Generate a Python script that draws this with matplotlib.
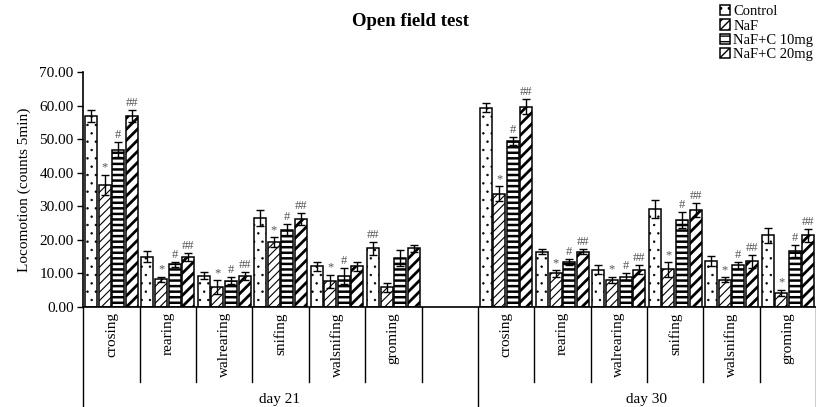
import numpy as np
import matplotlib
matplotlib.use("Agg")
import matplotlib.pyplot as plt
from matplotlib.lines import Line2D
import matplotlib.transforms as mtransforms

plt.rcParams['font.family'] = ['Liberation Serif', 'DejaVu Serif']

# --- Daten ---
behaviours = ['crosing', 'rearing', 'walrearing', 'snifing', 'walsnifing', 'groming']
days = ['day 21', 'day 30']
groups = ['Control', 'NaF', 'NaF+C 10mg', 'NaF+C 20mg']

d21_control = [57.0, 15.0, 9.3, 26.6, 12.1, 17.5]
d21_naf = [36.5, 8.3, 6.0, 19.4, 7.7, 5.9]
d21_c10 = [47.0, 12.7, 7.9, 23.0, 9.2, 14.6]
d21_c20 = [57.0, 14.8, 9.3, 26.4, 12.1, 17.5]

d21_control_err = [1.8, 1.6, 1.0, 2.3, 1.4, 1.9]
d21_naf_err = [3.0, 0.8, 2.0, 1.4, 2.0, 1.3]
d21_c10_err = [2.2, 0.7, 1.1, 1.8, 2.4, 2.3]
d21_c20_err = [1.7, 1.2, 1.1, 1.8, 1.3, 1.0]

d30_control = [59.5, 16.5, 11.1, 29.2, 13.6, 21.4]
d30_naf = [33.8, 10.0, 8.1, 11.2, 8.2, 4.2]
d30_c10 = [49.6, 13.4, 9.1, 26.0, 12.4, 16.6]
d30_c20 = [59.8, 16.5, 11.1, 29.0, 13.6, 21.4]

d30_control_err = [1.3, 0.8, 1.3, 2.7, 1.5, 2.2]
d30_naf_err = [2.2, 0.9, 1.0, 2.2, 0.8, 1.0]
d30_c10_err = [1.2, 1.0, 1.0, 2.3, 1.0, 1.8]
d30_c20_err = [2.2, 0.8, 1.3, 2.1, 2.0, 1.9]

# Signifikanz-Zeichen
d21_control_sig = ['', '', '', '', '', '##']
d21_naf_sig = ['*', '*', '*', '*', '*', '']
d21_c10_sig = ['#', '#', '#', '#', '#', '']
d21_c20_sig = ['##', '##', '##', '##', '', '']

d30_control_sig = ['', '', '', '', '', '']
d30_naf_sig = ['*', '*', '*', '*', '*', '*']
d30_c10_sig = ['#', '#', '#', '#', '#', '#']
d30_c20_sig = ['##', '##', '##', '##', '##', '##']

yticks = [0, 10, 20, 30, 40, 50, 60, 70]

# --- Plot ---
fig = plt.figure(figsize=(8.16, 4.07), dpi=100)
ax = fig.add_axes([0.1021, 0.2457, 0.898, 0.5762])

# Slots: day 21 -> 0..5 (+ leerer Slot 6), day 30 -> 7..12
x21 = np.arange(len(behaviours))
x30 = np.arange(len(behaviours)) + len(behaviours) + 1

values = [
    (np.concatenate([d21_control, d30_control]), np.concatenate([d21_control_err, d30_control_err]), d21_control_sig + d30_control_sig),
    (np.concatenate([d21_naf, d30_naf]), np.concatenate([d21_naf_err, d30_naf_err]), d21_naf_sig + d30_naf_sig),
    (np.concatenate([d21_c10, d30_c10]), np.concatenate([d21_c10_err, d30_c10_err]), d21_c10_sig + d30_c10_sig),
    (np.concatenate([d21_c20, d30_c20]), np.concatenate([d21_c20_err, d30_c20_err]), d21_c20_sig + d30_c20_sig),
]
xs = np.concatenate([x21, x30])

hatches = ['..', '////', '---', '///']
hatch_lw = [0.5, 0.8, 1.8, 2.0]
step = 0.241
width = 0.213
handles = []

for i, (vals, errs, sigs) in enumerate(values):
    pos = xs + (i - 1.5) * step
    with plt.rc_context({'hatch.linewidth': hatch_lw[i]}):
        bars = ax.bar(pos, vals, width=width, color='white', edgecolor='black',
                      linewidth=1.1, hatch=hatches[i], label=groups[i], zorder=2)
    for b in bars:
        if hasattr(b, 'set_hatch_linewidth'):
            b.set_hatch_linewidth(hatch_lw[i])
    handles.append(bars)
    ax.errorbar(pos, vals, yerr=errs, fmt='none', ecolor='black', elinewidth=1.0,
                capsize=3, capthick=1.0, zorder=3)
    for p, v, e, s in zip(pos, vals, errs, sigs):
        if s:
            ax.text(p, v + e + 0.3, s, ha='center', va='bottom', fontsize=9,
                    color='#555555', zorder=4)

ax.set_xlim(-0.5, 12.5)
ax.set_ylim(0, 70)
ax.set_yticks(yticks)
ax.set_yticklabels([f"{t:.2f}" for t in yticks], fontsize=11)
ax.tick_params(axis='y', direction='out', length=4, width=1.0, pad=3)
ax.set_xticks([])
ax.spines['top'].set_visible(False)
ax.spines['right'].set_visible(False)
ax.spines['left'].set_linewidth(1.2)
ax.spines['bottom'].set_linewidth(1.2)
ax.set_ylabel("Locomotion (counts 5min)", fontsize=11, labelpad=6)

# Kategorie-Achse (zweistufig)
trans = mtransforms.blended_transform_factory(ax.transData, ax.transAxes)
for x in [-0.5, 6.5, 12.5]:
    ax.add_line(Line2D([x, x], [0, -0.45], transform=trans, color='black',
                       linewidth=1.0, clip_on=False))
inner = [b + 0.5 for b in range(0, 6)] + [b + 0.5 for b in range(7, 12)]
for x in inner:
    ax.add_line(Line2D([x, x], [0, -0.32], transform=trans, color='black',
                       linewidth=1.0, clip_on=False))

for x, name in zip(xs, behaviours + behaviours):
    ax.text(x, -0.022, name, transform=trans, rotation=90, ha='center', va='top',
            fontsize=11)

ax.text(2.98, -0.395, days[0], transform=trans, ha='center', va='center', fontsize=11)
ax.text(9.5, -0.395, days[1], transform=trans, ha='center', va='center', fontsize=11)

fig.text(0.503, 0.948, "Open field test", ha='center', va='center', fontsize=13.5,
         fontweight='bold')

fig.legend(handles=handles, labels=groups, loc='upper left',
           bbox_to_anchor=(720 / 816, 1 - 5 / 407), frameon=False, fontsize=10.5,
           handlelength=0.7, handleheight=0.7, handletextpad=0.2,
           labelspacing=0.08, borderpad=0, borderaxespad=0)

fig.savefig("out.png", dpi=100)
